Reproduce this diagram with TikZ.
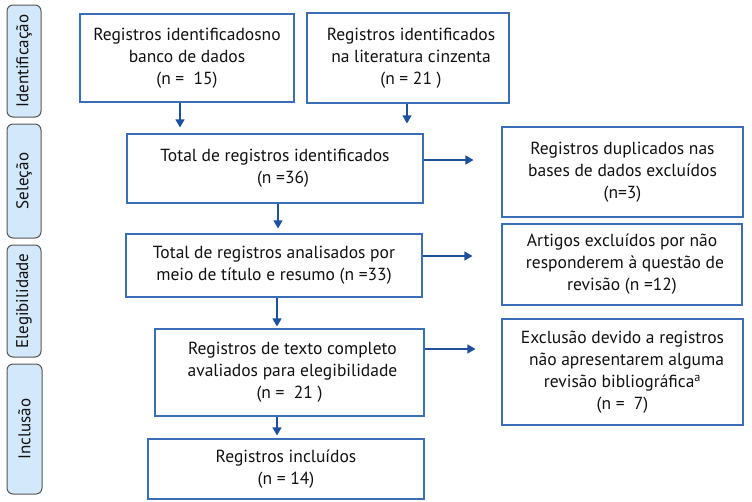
\documentclass[tikz,border=0pt]{standalone}
\usepackage{fontspec}
\setmainfont{PT Sans}
\usetikzlibrary{arrows.meta}
\definecolor{boxblue}{HTML}{3A6FB5}
\definecolor{arrblue}{HTML}{1F509E}
\definecolor{sidefill}{HTML}{D3E8FA}
\definecolor{sidedraw}{HTML}{555555}
\definecolor{txt}{HTML}{111111}
\tikzset{
  box/.style={draw=boxblue, line width=1.1pt, inner sep=0pt, align=center,
    text=txt, font=\fontsize{17.5}{22}\selectfont},
  side/.style={draw=sidedraw, fill=sidefill, line width=1pt, rounded corners=6pt,
    inner sep=0pt, rotate=90, text=txt, font=\fontsize{17}{18}\selectfont},
  arr/.style={draw=arrblue, line width=1.2pt, -{Triangle[length=8pt,width=9pt]}, arrblue},
}
\begin{document}
\begin{tikzpicture}[x=1pt,y=-1pt]
\useasboundingbox (0,0) rectangle (752,501);
% side labels
\node[side, minimum width=112pt, minimum height=34pt] (s1) at (24,61) {Identificação};
\node[side, minimum width=114pt, minimum height=34pt] (s2) at (24,181) {Seleção};
\node[side, minimum width=112pt, minimum height=34pt] (s3) at (24,301) {Elegibilidade};
\node[side, minimum width=130pt, minimum height=35pt] (s4) at (24.5,429) {Inclusão};
% boxes
\node[box, minimum width=214pt, minimum height=88pt] (b1) at (187,58)
  {Registros identificadosno\\banco de dados\\(n =\ \ 15)};
\node[box, minimum width=202pt, minimum height=90pt] (b2) at (408,58)
  {\hspace*{6pt}Registros identificados\\\hspace*{6pt}na literatura cinzenta\\\hspace*{6pt}(n = 21 )};
\node[box, minimum width=296pt, minimum height=69pt] (b3) at (275,168.5)
  {Total de registros identificados\\\hspace*{16pt}(n =36)};
\node[box, minimum width=241pt, minimum height=90pt] (dup) at (622.5,172)
  {Registros duplicados nas\\bases de dados excluídos\\(n=3)};
\node[box, minimum width=296pt, minimum height=63pt] (b4) at (274,265.5)
  {\raisebox{-3pt}{\parbox{290pt}{\centering Total de registros analisados por\\meio de título e resumo (n =33)}}};
\node[box, minimum width=240pt, minimum height=81pt] (art) at (622,264.5)
  {\raisebox{-4pt}{\parbox{234pt}{\centering Artigos excluídos por não\\\hspace*{6pt}responderem à questão de\\revisão (n =12)}}};
\node[box, minimum width=269pt, minimum height=87pt] (b5) at (289.5,372.5)
  {\hspace*{6pt}Registros de texto completo\\\hspace*{6pt}avaliados para elegibilidade\\(n =\ \ 21 )};
\node[box, minimum width=241pt, minimum height=106pt] (exc) at (622.5,372)
  {\raisebox{-3pt}{\parbox{235pt}{\centering Exclusão devido a registros\\\hspace*{8pt}não apresentarem alguma\\revisão bibliográfica\textsuperscript{a}\\(n =\ \ 7)}}};
\node[box, minimum width=276pt, minimum height=60pt] (b6) at (286,469)
  {Registros incluídos\\(n = 14)};
% arrows
\draw[arr, shorten >=6pt] ([xshift=-7pt]b1.south) -- ([xshift=-7pt]b1.south |- b3.north);
\draw[arr, shorten >=10pt] ([xshift=-1pt]b2.south) -- ([xshift=-1pt]b2.south |- b3.north);
\draw[arr, shorten >=28pt] ([yshift=8.5pt]b3.east) -- ([yshift=8.5pt]b3.east -| dup.west);
\draw[arr, shorten >=5pt] ([xshift=3pt]b3.south) -- ([xshift=3pt]b3.south |- b4.north);
\draw[arr, shorten >=29pt] ([yshift=9.5pt]b4.east) -- ([yshift=9.5pt]b4.east -| art.west);
\draw[arr, shorten >=2pt] ([xshift=3pt]b4.south) -- ([xshift=3pt]b4.south |- b5.north);
\draw[arr, shorten >=26pt] ([yshift=23.5pt]b5.east) -- ([yshift=23.5pt]b5.east -| exc.west);
\draw[arr, shorten >=3pt] ([xshift=-12.5pt]b5.south) -- ([xshift=-12.5pt]b5.south |- b6.north);
\end{tikzpicture}
\end{document}
